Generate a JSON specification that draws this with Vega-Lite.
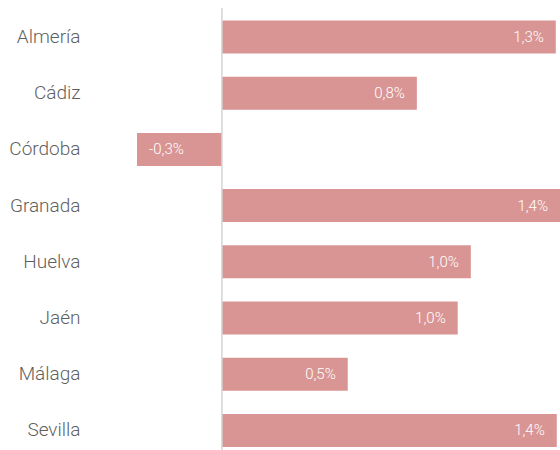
{
  "$schema": "https://vega.github.io/schema/vega-lite/v6.json",
  "width": 423,
  "height": 442,
  "autosize": {"type": "none"},
  "padding": {"left": 137, "top": 8, "right": 0, "bottom": 0},
  "background": "white",
  "config": {"view": {"stroke": null}},
  "data": {
    "values": [
      {"provincia": "Almería", "valor": 1.348, "label": "1,3%"},
      {"provincia": "Cádiz", "valor": 0.787, "label": "0,8%"},
      {"provincia": "Córdoba", "valor": -0.343, "label": "-0,3%"},
      {"provincia": "Granada", "valor": 1.365, "label": "1,4%"},
      {"provincia": "Huelva", "valor": 1.005, "label": "1,0%"},
      {"provincia": "Jaén", "valor": 0.952, "label": "1,0%"},
      {"provincia": "Málaga", "valor": 0.508, "label": "0,5%"},
      {"provincia": "Sevilla", "valor": 1.352, "label": "1,4%"}
    ]
  },
  "layer": [
    {
      "mark": {"type": "bar", "color": "#d99594"},
      "encoding": {
        "y": {
          "field": "provincia", "type": "nominal", "sort": null,
          "scale": {"paddingInner": 0.413, "paddingOuter": 0.139, "align": 0.8},
          "axis": {"title": null, "domain": false, "ticks": false, "labelPadding": 57, "labelFontSize": 19, "labelColor": "#5f5f5f", "labelFont": "Roboto", "labelFontWeight": 300}
        },
        "x": {
          "field": "valor", "type": "quantitative",
          "scale": {"domain": [-0.343, 1.365], "nice": false, "zero": false},
          "axis": null
        }
      }
    },
    {
      "data": {"values": [{"z": 0}]},
      "mark": {"type": "rule", "color": "#d4d4d4", "strokeWidth": 1.5},
      "encoding": {"x": {"field": "z", "type": "quantitative"}}
    },
    {
      "transform": [{"filter": "datum.valor >= 0"}],
      "mark": {"type": "text", "align": "right", "dx": -12, "fontSize": 15, "color": "white", "font": "Roboto", "fontWeight": 300},
      "encoding": {
        "y": {"field": "provincia", "type": "nominal", "sort": null},
        "x": {"field": "valor", "type": "quantitative"},
        "text": {"field": "label"}
      }
    },
    {
      "transform": [{"filter": "datum.valor < 0"}],
      "mark": {"type": "text", "align": "left", "dx": 12, "fontSize": 15, "color": "white", "font": "Roboto", "fontWeight": 300},
      "encoding": {
        "y": {"field": "provincia", "type": "nominal", "sort": null},
        "x": {"field": "valor", "type": "quantitative"},
        "text": {"field": "label"}
      }
    }
  ]
}
